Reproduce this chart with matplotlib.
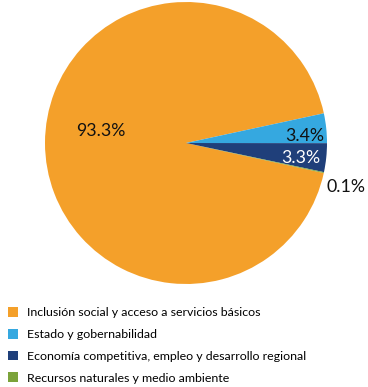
import matplotlib
matplotlib.use("Agg")
import matplotlib.pyplot as plt
import numpy as np
from matplotlib.patches import Patch

plt.rcParams['font.family'] = ['Lato', 'DejaVu Sans']

categories = ["Inclusión social y acceso a servicios básicos",
              "Estado y gobernabilidad",
              "Economía competitiva, empleo y desarrollo regional",
              "Recursos naturales y medio ambiente"]
values = [93.3, 3.4, 3.3, 0.1]
value_labels = ["93.3%", "3.4%", "3.3%", "0.1%"]
colors = ["#F4A02A", "#35A8E0", "#1F3F7A", "#7BA33A"]
label_colors = ["#111111", "#111111", "white", "#111111"]
# label placement (radius fraction, angle degrees)
label_pos = [(0.61, 172), (0.84, 3.4), (0.82, -7.4), (1.18, -15.5)]

W, H = 368, 387
fig = plt.figure(figsize=(W/100, H/100), dpi=100)
cx, cy, r = 186, 143, 141
ax = fig.add_axes([(cx - r)/W, 1 - (cy + r)/H, 2*r/W, 2*r/H])
wedges, _ = ax.pie(values, colors=colors, startangle=-12.3, counterclock=False,
                   wedgeprops=dict(linewidth=0))
ax.set_xlim(-1, 1)
ax.set_ylim(-1, 1)
ax.set_aspect('equal')
for lab, (rr, ang), c in zip(value_labels, label_pos, label_colors):
    a = np.deg2rad(ang)
    ax.text(rr*np.cos(a), rr*np.sin(a), lab, ha='center', va='center',
            fontsize=12.8, color=c, clip_on=False)

handles = [Patch(facecolor=c, edgecolor='none') for c in colors]
leg = fig.legend(handles, categories, loc='upper left', bbox_to_anchor=(0.008, 1 - 302/H),
                 frameon=False, fontsize=8.95, handlelength=0.83, handleheight=0.83,
                 handletextpad=0.72, labelspacing=0.855, borderpad=0.15, borderaxespad=0.25)
fig.savefig("out.png", dpi=100)
